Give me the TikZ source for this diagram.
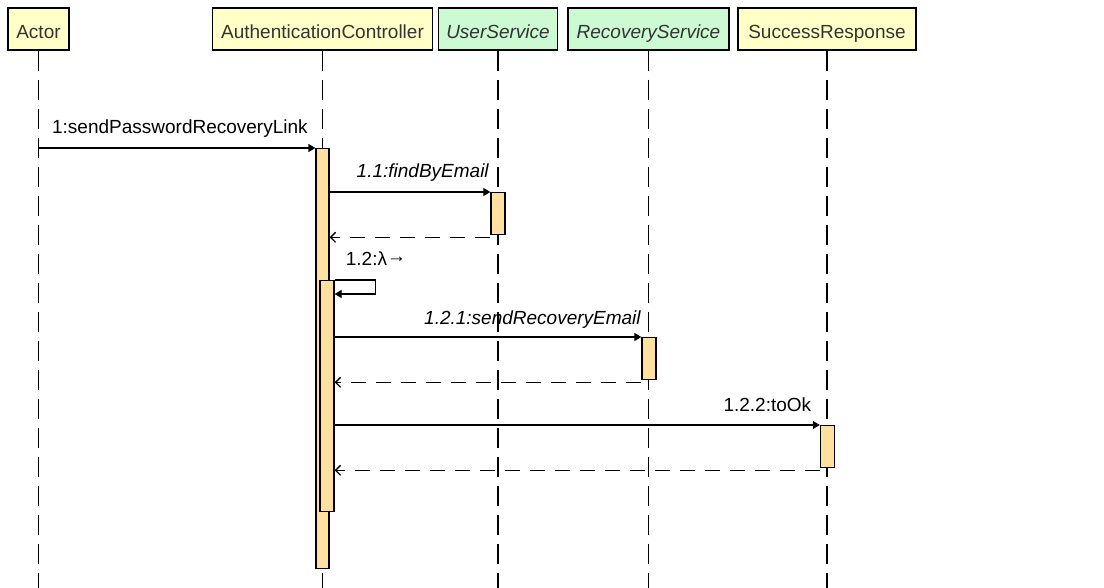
\documentclass[tikz,border=0pt]{standalone}
\usepackage{fontspec}
\setmainfont{Liberation Sans}
\usetikzlibrary{arrows.meta,calc}

\definecolor{headyellow}{RGB}{255,255,200}
\definecolor{headgreen}{RGB}{204,250,210}
\definecolor{actfill}{RGB}{255,224,160}
\definecolor{headtext}{RGB}{51,51,51}

\begin{document}
\begin{tikzpicture}[x=1pt,y=-1pt,
  head/.style={draw=black, line width=1.4pt, minimum height=42pt, inner sep=0pt,
    text height=19pt, text depth=0pt,
    text=headtext, font=\fontsize{19}{22}\selectfont},
  plainhead/.style={head, fill=headyellow},
  svchead/.style={head, fill=headgreen, font=\fontsize{19}{22}\selectfont\itshape},
  lifeline/.style={draw=black, line width=1.5pt, dash pattern=on 20pt off 9pt},
  act/.style={draw=black, fill=actfill, line width=1.3pt, anchor=north,
    minimum width=14pt, inner sep=0pt},
  msg/.style={draw=black, line width=1.3pt, -{Triangle[length=7pt,width=8pt]}},
  ret/.style={draw=black, line width=1.3pt, dash pattern=on 15pt off 10pt,
    -{Straight Barb[length=5pt,width=10pt]}},
  lbl/.style={font=\fontsize{19}{22}\selectfont, text=black, inner sep=0pt},
  ilbl/.style={lbl, font=\fontsize{19}{22}\selectfont\itshape}
]
\useasboundingbox (0,0) rectangle (1104,588);

% participant heads
\node[plainhead, minimum width=61pt]  (actor) at (38.5,29) {Actor};
\node[plainhead, minimum width=220pt] (auth)  at (322.5,29) {AuthenticationController};
\node[svchead,   minimum width=119pt] (user)  at (498,29) {UserService};
\node[svchead,   minimum width=161pt] (recov) at (648.5,29) {RecoveryService};
\node[plainhead, minimum width=178pt] (succ)  at (827,29) {SuccessResponse};

% lifeline ends
\coordinate (actorEnd) at (38.5,588);
\coordinate (authEnd)  at (322.5,588);
\coordinate (userEnd)  at (498,588);
\coordinate (recovEnd) at (648.5,588);
\coordinate (succEnd)  at (827,588);

\draw[lifeline] (actor.south) -- (actorEnd);
\draw[lifeline] (auth.south)  -- (authEnd);
\draw[lifeline] (user.south)  -- (userEnd);
\draw[lifeline] (recov.south) -- (recovEnd);
\draw[lifeline] (succ.south)  -- (succEnd);

% activation bars
\node[act, minimum width=13pt, minimum height=420pt] (authAct) at (322.5,148) {};
\node[act, minimum height=42pt]  (userAct)  at (498,192) {};
\node[act, minimum height=231pt] (authSub)  at (327,280) {};
\node[act, minimum height=42pt]  (recovAct) at (649,337) {};
\node[act, minimum height=42pt]  (succAct)  at (827.5,425) {};

% return points just below the callee bars
\coordinate (userRet)  at ($(userAct.south west)+(0,2)$);
\coordinate (recovRet) at ($(recovAct.south west)+(0,2)$);
\coordinate (succRet)  at ($(succAct.south west)+(0,2)$);

% 1: sendPasswordRecoveryLink
\draw[msg] (actor.south |- authAct.north) -- (authAct.north west)
  node[lbl, midway, anchor=base, xshift=3pt, yshift=14pt] {1:sendPasswordRecoveryLink};

% 1.1: findByEmail and its return
\draw[msg] (authAct.east |- userAct.north) -- (userAct.north west)
  node[ilbl, at end, anchor=base east, xshift=-1pt, yshift=14pt] {1.1:findByEmail};
\draw[ret] (userRet) -- (authAct.east |- userRet);

% 1.2: self call opening the nested bar
\draw[msg] (authSub.north east) -- ++(41,0) -- ++(0,14) -- ($(authSub.north east)+(0,14)$);
\node[lbl, anchor=base west] (lblLambda) at ($(authSub.north east)+(11,-14)$)
  {1.2:λ\raisebox{3pt}{→}};

% 1.2.1: sendRecoveryEmail and its return
\draw[msg] (authSub.east |- recovAct.north) -- (recovAct.north west)
  node[ilbl, at end, anchor=base east, xshift=0pt, yshift=13pt] {1.2.1:sendRecoveryEmail};
\draw[ret] (recovRet) -- (authSub.east |- recovRet);

% 1.2.2: toOk and its return
\draw[msg] (authSub.east |- succAct.north) -- (succAct.north west)
  node[lbl, at end, anchor=base east, xshift=-8pt, yshift=14pt] {1.2.2:toOk};
\draw[ret] (succRet) -- (authSub.east |- succRet);

\end{tikzpicture}
\end{document}
